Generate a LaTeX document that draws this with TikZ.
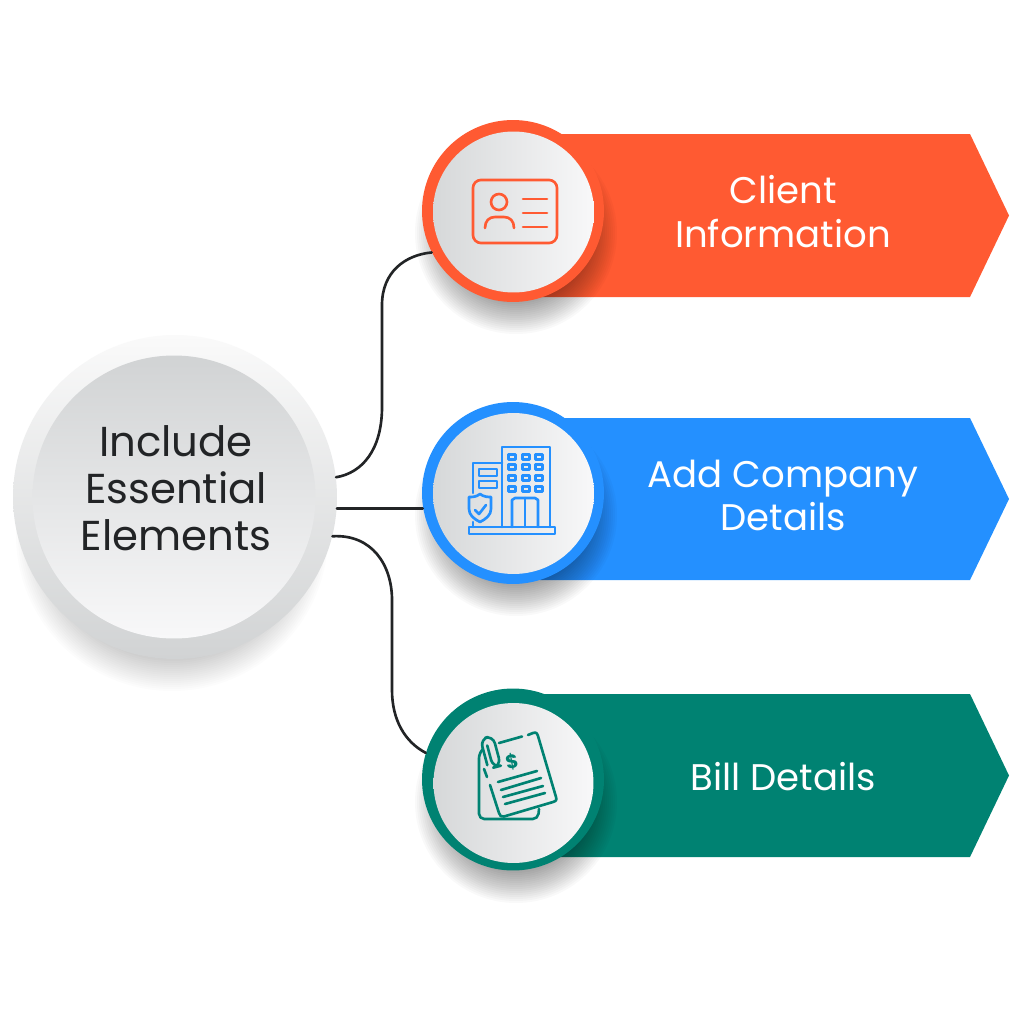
\documentclass[tikz,border=0pt]{standalone}
\usepackage{fontspec}
\setmainfont{Poppins}
\definecolor{orangeC}{HTML}{FF5A32}
\definecolor{blueC}{HTML}{2490FF}
\definecolor{greenC}{HTML}{008272}
\definecolor{inkC}{HTML}{222426}
\definecolor{greyD}{HTML}{D1D3D4}
\definecolor{greyL}{HTML}{F8F8F9}
\definecolor{greyF}{HTML}{D6D8D9}
\newcommand{\softshade}[4]{% x y r strength
  \foreach \k in {0,2,...,36}{
    \fill[black,fill opacity=#4] (#1,#2) circle ({#3+\k-10});
  }}
\tikzset{
  x=0.02cm,y=-0.02cm,
  ringnode/.style={circle,draw=none,inner sep=0pt,minimum size=3.64cm},
  linkline/.style={draw=inkC,line width=1.5pt,line cap=round},
  bannertext/.style={text=white,font=\fontsize{21.1}{24.8}\selectfont,align=center,inner sep=0pt},
  maintext/.style={text=inkC,font=\fontsize{23.8}{26.6}\selectfont,align=center,inner sep=0pt},
  iconline/.style={line width=1.5pt,line cap=round,line join=round,fill=none},
  banner/.style={fill=#1,draw=none},
}
\begin{document}
\begin{tikzpicture}
\useasboundingbox (0,0) rectangle (1024,1024);
\fill[white] (0,0) rectangle (1024,1024);

% banners
\path[banner=orangeC] (540,134) -- (970,134) -- (1009,215.5) -- (970,297) -- (540,297) -- cycle;
\path[banner=blueC] (540,418) -- (970,418) -- (1009,499) -- (970,580) -- (540,580) -- cycle;
\path[banner=greenC] (540,694) -- (970,694) -- (1009,775.5) -- (970,857) -- (540,857) -- cycle;

% shadows
\softshade{172}{535}{130}{0.012}
\softshade{516}{233}{75}{0.022}
\softshade{516}{515}{75}{0.022}
\softshade{516}{802}{75}{0.022}

% main circle
\node[circle,inner sep=0pt,minimum size=6.48cm,top color=white!98!black,bottom color=greyD] (main) at (175,497) {};
\node[circle,inner sep=0pt,minimum size=5.66cm,top color=greyD,bottom color=greyL] (mainface) at (174,497) {};
\node[maintext] (maintitle) at (176,488) {Include\\Essential\\Elements};

% item circles
\node[ringnode,fill=orangeC] (c1) at (513,211) {};
\node[ringnode,fill=blueC] (c2) at (513,493) {};
\node[ringnode,fill=greenC] (c3) at (513,779.5) {};
\node[circle,inner sep=0pt,minimum size=3.22cm,left color=greyF,right color=greyL] (f1) at (513.5,212) {};
\node[circle,inner sep=0pt,minimum size=3.22cm,left color=greyF,right color=greyL] (f2) at (513.5,493.5) {};
\node[circle,inner sep=0pt,minimum size=3.2cm,left color=greyF,right color=greyL] (f3) at (513.5,783) {};

% banner labels
\node[bannertext] (t1) at (783,211.5) {Client\\Information};
\node[bannertext] (t2) at (783,495.5) {Add Company\\Details};
\node[bannertext] (t3) at (783,777) {Bill Details};

% connectors
\draw[linkline] (main.7.4) .. controls (362,473) and (382,450) .. (382,407) -- (382,305) .. controls (382,272) and (405,255) .. (c1.207.7);
\draw[linkline] (main.-4) -- (c2.189 |- main.-4);
\draw[linkline] (main.-14.3) .. controls (372,534) and (392,565) .. (392,600) -- (392,690) .. controls (392,720) and (405,742) .. (c3.163);

% icon 1: id card
\begin{scope}[iconline,draw=orangeC]
\draw[rounded corners=4.5] (473,180) rectangle (557,243);
\draw (499,202) circle (8);
\draw (485,228) .. controls (485,221) and (489,217) .. (495,217) -- (504,217) .. controls (510,217) and (514,221) .. (514,228);
\draw (523,199) -- (547,199);
\draw (523,213) -- (547,213);
\draw (523,227) -- (547,227);
\end{scope}

% icon 2: building
\begin{scope}[iconline,draw=blueC]
\draw (502,527) -- (502,447) -- (550,447) -- (550,527);
\draw (469,527) rectangle (555,534);
\draw (502,463) -- (473,463) -- (473,493);
\draw (473,522) -- (473,527);
\draw (479,469) rectangle (497,476);
\draw (479,481) rectangle (497,488);
\foreach \wx in {512,526,539}{
  \foreach \wy in {457,467,478,489}{
    \draw (\wx-3.5,\wy-2.8) rectangle (\wx+3.5,\wy+2.8);
  }
}
\draw (512,527) -- (512,500) -- (515,498) -- (535,498) -- (538,500) -- (538,527);
\draw (525,498) -- (525,527);
\draw (480,494) .. controls (484,497) and (488,497) .. (491,497) -- (491,509) .. controls (491,515) and (486,519) .. (480,522) .. controls (474,519) and (469,515) .. (469,509) -- (469,497) .. controls (473,497) and (476,497) .. (480,494) -- cycle;
\draw (475,510) -- (479,514) -- (486,505);
\end{scope}

% icon 3: bill
\begin{scope}[iconline,draw=greenC]
\draw[rounded corners=3] (483,749) -- (479,753) -- (479,819) -- (538,819) -- (539,809);
\draw (499,743) -- (522,736.5);
\draw (528,735) -- (533,733) .. controls (536,732) and (537,733) .. (538,736) -- (556,797) .. controls (557,800) and (556,801) .. (553,802) -- (504,816.5) .. controls (501,817) and (500,816) .. (499,813) -- (490,785);
\draw (484,769) -- (487,777);
\draw[rotate around={15:(490,752)},rounded corners=4.5] (484,764) -- (484,737) -- (497,737) -- (497,768) -- (489,768) -- (489,745);
\draw (498,782) -- (537,771);
\draw (501,790) -- (541,778);
\draw (503,797) -- (543,786);
\draw (505,804) -- (545,793);
\end{scope}
\node[text=greenC,inner sep=0pt,rotate=10,font=\fontsize{11}{11}\selectfont\bfseries] (dollar) at (512,762) {\$};
\end{tikzpicture}
\end{document}
